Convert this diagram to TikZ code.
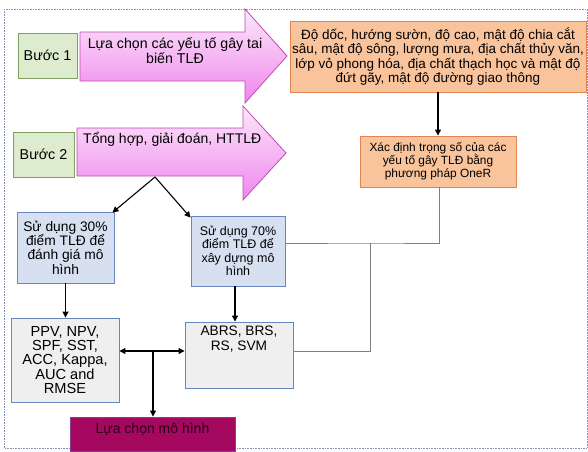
\documentclass[tikz,border=0pt]{standalone}
\usepackage{fontspec}
\setmainfont{Liberation Sans}
\usetikzlibrary{arrows.meta}
\definecolor{grfill}{HTML}{DDEBCF}
\definecolor{grdraw}{HTML}{7F9F5F}
\definecolor{orfill}{HTML}{F9C39C}
\definecolor{ordraw}{HTML}{E0854F}
\definecolor{blfill}{HTML}{D6E0F1}
\definecolor{bldraw}{HTML}{6A86BE}
\definecolor{gyfill}{HTML}{EFEFEF}
\definecolor{mgfill}{HTML}{A4085F}
\definecolor{mgdraw}{HTML}{8A3C9A}
\definecolor{mgtext}{HTML}{2A0018}
\definecolor{pklight}{HTML}{FDE8FB}
\definecolor{pkdark}{HTML}{EE86EC}
\definecolor{pkdraw}{HTML}{C24AB4}
\definecolor{frame}{HTML}{8090B8}
\definecolor{gline}{HTML}{808080}
\newcommand{\fsz}[2]{\fontsize{#1}{#2}\selectfont}
\begin{document}
\begin{tikzpicture}[x=1pt,y=-1pt,
  every node/.style={align=center, inner sep=0pt},
  greenbox/.style={draw=grdraw, fill=grfill, line width=0.9pt, minimum width=59pt, minimum height=45pt, font=\fsz{14.3}{16}},
  orbox/.style={draw=ordraw, fill=orfill, line width=0.9pt},
  bluebox/.style={draw=bldraw, fill=blfill, line width=0.9pt},
  graybox/.style={draw=bldraw, fill=gyfill, line width=0.9pt},
  bigarrow/.style={draw=pkdraw, line width=0.8pt, top color=pklight, bottom color=pkdark},
  arr/.style={-{Triangle[length=6pt,width=6pt]}, line width=1.1pt, black},
  glin/.style={draw=gline, line width=0.9pt},
  arrtext/.style={font=\fsz{14.2}{15}, anchor=base}
]
\useasboundingbox (0,0) rectangle (588,451);
\draw[frame, densely dotted, line width=0.6pt] (4,9) rectangle (587,448);

% big arrows
\path[bigarrow] (80,32) -- (245,32) -- (245,9) -- (287,56) -- (245,103) -- (245,81) -- (80,81) -- cycle;
\path[bigarrow] (77,128) -- (243,128) -- (243,106) -- (286,153) -- (243,200) -- (243,176) -- (77,176) -- cycle;
\node[arrtext] (t1a) at (175,48) {Lựa chọn các yếu tố gây tai};
\node[arrtext] (t1b) at (175,63) {biến TLĐ};
\node[anchor=west, font=\fsz{14}{16}] (t2) at (83,139) {Tổng hợp, giải đoán, HTTLĐ};
\coordinate (split) at (155,177);

% step boxes
\node[greenbox] (s1) at (47.5,55.5) {Bước 1};
\node[greenbox, minimum width=61pt] (s2) at (43.5,154.5) {Bước 2};

% orange boxes
\node[orbox, minimum width=296pt, minimum height=71pt, font=\fsz{13.5}{14.6}] (o1) at (438,56.5)
  {Độ dốc, hướng sườn, độ cao, mật độ chia cắt\\sâu, mật độ sông, lượng mưa, địa chất thủy văn,\\lớp vỏ phong hóa, địa chất thạch học và mật độ\\đứt gãy, mật độ đường giao thông};
\node[orbox, minimum width=156pt, minimum height=51pt, font=\fsz{11.9}{13}] (oner) at (438,161.5)
  {Xác định trọng số của các\\yếu tố gây TLĐ bằng\\phương pháp OneR};

% blue boxes
\node[bluebox, minimum width=97pt, minimum height=71pt, font=\fsz{13.8}{14.3}] (b30) at (65.5,247.5)
  {Sử dụng 30\%\\điểm TLĐ để\\đánh giá mô\\hình};
\node[bluebox, minimum width=94pt, minimum height=70pt, font=\fsz{12.5}{13.5}] (b70) at (238,251)
  {Sử dụng 70\%\\điểm TLĐ để\\xây dựng mô\\hình};

% gray boxes
\node[graybox, minimum width=108pt, minimum height=84pt, font=\fsz{14.6}{14.3}] (ppv) at (65,360)
  {PPV, NPV,\\SPF, SST,\\ACC, Kappa,\\AUC and\\RMSE};
\node[graybox, minimum width=108pt, minimum height=66pt] (abrs) at (239,355) {};
\node[anchor=north, font=\fsz{13.7}{15}] (abrst) at (239,326) {ABRS, BRS,\\RS, SVM};

% selection box
\node[draw=mgdraw, fill=mgfill, line width=0.9pt, minimum width=165pt, minimum height=34pt] (sel) at (152.5,434) {};
\node[text=mgtext, font=\fsz{14}{16}] (selt) at (152.5,429) {Lựa chọn mô hình};

% connectors
\draw[arr] (o1) -- (oner);
\draw[arr] (split) -- ([xshift=-2pt,yshift=-1pt]b30.north east);
\draw[arr] (split) -- ([xshift=0pt,yshift=-2pt]b70.north west);
\draw[arr] (b30.south) -- (b30.south |- ppv.north);
\draw[arr] ([xshift=-3pt]b70.south) -- ([xshift=-3pt]b70.south |- abrs.north);
\coordinate (mid) at (153,351);
\draw[arr] (mid) -- (ppv.east |- mid);
\draw[arr] (mid) -- (abrs.west |- mid);
\draw[arr] (mid) -- (mid |- sel.north);
\coordinate (j) at (370,243);
\draw[glin] ([xshift=1pt]oner.south) |- (j) -- (b70.east |- j);
\draw[glin] (j) |- (abrs.east |- mid);
\end{tikzpicture}
\end{document}
